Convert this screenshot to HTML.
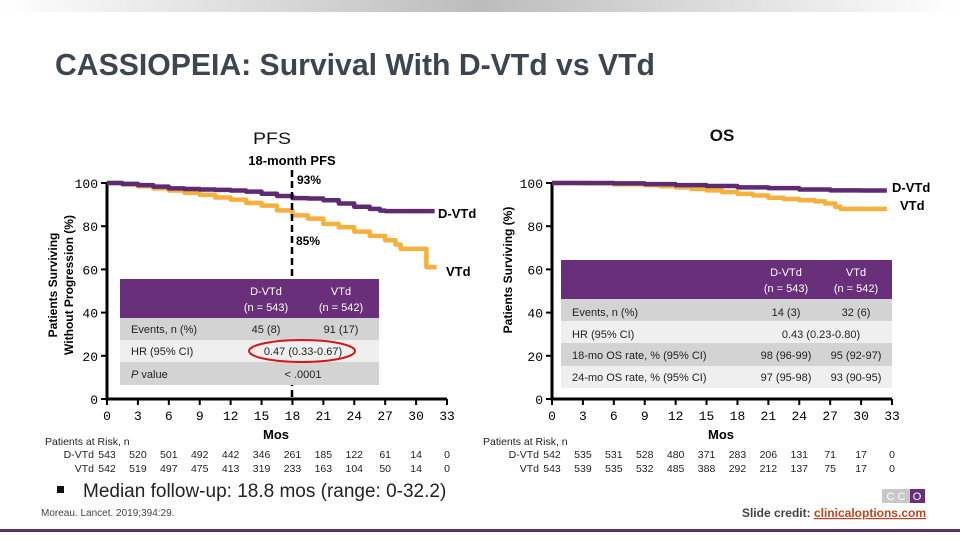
<!DOCTYPE html>
<html><head><meta charset="utf-8"><style>
html,body{margin:0;padding:0;background:#fff;}
svg{display:block;font-family:"Liberation Sans",sans-serif;}
</style></head><body>
<svg id="s" width="960" height="540" viewBox="0 0 960 540" xmlns="http://www.w3.org/2000/svg">
<defs>
<linearGradient id="tg" x1="0" x2="1" y1="0" y2="0">
<stop offset="0" stop-color="#fff"/><stop offset="0.5" stop-color="#bcbcbc"/><stop offset="1" stop-color="#fff"/>
</linearGradient>
</defs>
<rect x="0" y="0" width="960" height="12" fill="url(#tg)"/>
<text x="55" y="75" font-size="31" font-weight="bold" fill="#3d4650" textLength="600" lengthAdjust="spacingAndGlyphs">CASSIOPEIA: Survival With D-VTd vs VTd</text>
<text x="272" y="144" font-size="17" text-anchor="middle" fill="#111" textLength="38" lengthAdjust="spacingAndGlyphs">PFS</text>
<text x="722" y="141" font-size="17" font-weight="bold" text-anchor="middle" fill="#111">OS</text>
<g id="pfs"></g>
<g id="os"></g>

<line x1="292" y1="170" x2="292" y2="399" stroke="#000" stroke-width="2.5" stroke-dasharray="7,4"/>
<text x="292" y="165" font-size="13" font-weight="bold" text-anchor="middle">18-month PFS</text>
<text x="297" y="184" font-size="12" font-weight="bold">93%</text>
<text x="296" y="245" font-size="12" font-weight="bold">85%</text>
<text x="438" y="218" font-size="13" font-weight="bold">D-VTd</text>
<text x="446" y="276" font-size="13" font-weight="bold">VTd</text>
<text transform="translate(57,285) rotate(-90)" font-size="12" font-weight="bold" text-anchor="middle">Patients Surviving</text>
<text transform="translate(73,285) rotate(-90)" font-size="12" font-weight="bold" text-anchor="middle">Without Progression (%)</text>
<text x="276" y="439" font-size="13" font-weight="bold" text-anchor="middle">Mos</text>

<g font-size="11" fill="#222">
<rect x="120" y="279" width="259" height="39" fill="#6a2f7a"/>
<rect x="120" y="318" width="259" height="22" fill="#d3d3d3"/>
<rect x="120" y="340" width="259" height="22" fill="#efefef"/>
<rect x="120" y="362" width="259" height="23" fill="#d3d3d3"/>
<text x="266" y="295" fill="#fff" text-anchor="middle">D-VTd</text>
<text x="266" y="311" fill="#fff" text-anchor="middle">(n = 543)</text>
<text x="341" y="295" fill="#fff" text-anchor="middle">VTd</text>
<text x="341" y="311" fill="#fff" text-anchor="middle">(n = 542)</text>
<text x="131" y="333">Events, n (%)</text>
<text x="266" y="333" text-anchor="middle">45 (8)</text>
<text x="341" y="333" text-anchor="middle">91 (17)</text>
<text x="131" y="355">HR (95% CI)</text>
<text x="303" y="355" text-anchor="middle">0.47 (0.33-0.67)</text>
<text x="131" y="378"><tspan font-style="italic">P</tspan> value</text>
<text x="303" y="378" text-anchor="middle">&lt; .0001</text>
<ellipse cx="302" cy="351" rx="53" ry="11" fill="none" stroke="#d01818" stroke-width="2"/>
</g>

<text x="892" y="192" font-size="13" font-weight="bold">D-VTd</text>
<text x="900" y="210" font-size="13" font-weight="bold">VTd</text>
<text transform="translate(512,270) rotate(-90)" font-size="12" font-weight="bold" text-anchor="middle">Patients Surviving (%)</text>
<text x="721" y="439" font-size="13" font-weight="bold" text-anchor="middle">Mos</text>

<g font-size="11" fill="#222">
<rect x="561" y="260" width="331" height="39" fill="#6a2f7a"/>
<rect x="561" y="299" width="331" height="22" fill="#d3d3d3"/>
<rect x="561" y="321" width="331" height="22" fill="#efefef"/>
<rect x="561" y="343" width="331" height="23" fill="#d3d3d3"/>
<rect x="561" y="366" width="331" height="22" fill="#efefef"/>
<text x="786" y="276" fill="#fff" text-anchor="middle">D-VTd</text>
<text x="786" y="292" fill="#fff" text-anchor="middle">(n = 543)</text>
<text x="856" y="276" fill="#fff" text-anchor="middle">VTd</text>
<text x="856" y="292" fill="#fff" text-anchor="middle">(n = 542)</text>
<text x="572" y="316">Events, n (%)</text>
<text x="786" y="316" text-anchor="middle">14 (3)</text>
<text x="856" y="316" text-anchor="middle">32 (6)</text>
<text x="572" y="338">HR (95% CI)</text>
<text x="821" y="338" text-anchor="middle">0.43 (0.23-0.80)</text>
<text x="572" y="359">18-mo OS rate, % (95% CI)</text>
<text x="786" y="359" text-anchor="middle">98 (96-99)</text>
<text x="856" y="359" text-anchor="middle">95 (92-97)</text>
<text x="572" y="381">24-mo OS rate, % (95% CI)</text>
<text x="786" y="381" text-anchor="middle">97 (95-98)</text>
<text x="856" y="381" text-anchor="middle">93 (90-95)</text>
</g>

<g id="risk" font-size="10.5" fill="#222"></g>

<rect x="57" y="486" width="7" height="7" fill="#111"/>
<text x="83" y="497" font-size="19" fill="#222">Median follow-up: 18.8 mos (range: 0-32.2)</text>
<text x="41" y="516" font-size="10" fill="#444">Moreau. Lancet. 2019;394:29.</text>
<g>
<rect x="882" y="489" width="28" height="14" fill="#c8c8cc"/>
<rect x="910" y="489" width="15" height="14" fill="#6a2f7a"/>
<text x="896" y="500" font-size="11" fill="#fff" text-anchor="middle">C C</text>
<text x="917" y="500" font-size="11" fill="#fff" text-anchor="middle">O</text>
</g>
<text x="926" y="517" font-size="12" font-weight="bold" text-anchor="end" fill="#444">Slide credit: <tspan fill="#c0441c" text-decoration="underline">clinicaloptions.com</tspan></text>
<rect x="0" y="529" width="960" height="3" fill="#5a3068"/>
</svg>
<script>
const ticksX=[0,3,6,9,12,15,18,21,24,27,30,33];
const ticksY=[0,20,40,60,80,100];
const pfsDvtdT=[0,1.5,3,4.5,6,7.5,9,10.5,12,13.5,15,16.5,18,19.5,21,22.5,24,25.5,26.5,27,30,31.8];
const pfsDvtdV=[100,99.6,99,98.3,97.5,97.2,97,96.8,96.5,96,95,94,93,92.8,92,90.5,89,88,87.2,87,87,87];
const pfsVtdT=[0,1.5,3,4.5,6,7.5,9,10.5,12,13.5,15,16.5,18,19.5,21,22.5,24,25.5,27,28,28.5,31,31,32];
const pfsVtdV=[100,99.3,98.5,97.5,96.5,95.5,94.5,93.3,92.3,90.8,89.5,87.3,85,83.5,81,79.5,77.5,75.5,73.5,71.5,69.5,69,61,61];
const osDvtdT=[0,3,6,9,12,15,18,21,24,27,30,32.5];
const osDvtdV=[100,100,99.8,99.5,99,98.6,98,97.6,97,96.6,96.5,96.5];
const osVtdT=[0,3,6,9,10.5,12,13.5,15,16.5,18,19.5,21,22.5,24,25.5,26.5,27.5,28,32.5];
const osVtdV=[100,99.8,99.4,99,98.5,98,97.3,96.6,95.8,95,94.2,93.2,92.6,92,91.5,90.5,89,88,88];
const pfsRiskD=[543,520,501,492,442,346,261,185,122,61,14,0];
const pfsRiskV=[542,519,497,475,413,319,233,163,104,50,14,0];
const osRiskD=[542,535,531,528,480,371,283,206,131,71,17,0];
const osRiskV=[543,539,535,532,485,388,292,212,137,75,17,0];
const NS="http://www.w3.org/2000/svg";
function mk(t,a,p){const e=document.createElementNS(NS,t);for(const k in a)e.setAttribute(k,a[k]);p.appendChild(e);return e;}
function chart(g,x0,name,dT,dV,vT,vV){
 const sx=t=>x0+t*340/33, sy=v=>399-v*2.16;
 const ax=mk('path',{d:`M${x0} 183V399H${sx(33)}`,fill:'none',stroke:'#000','stroke-width':3},g);
 
 
 ticksY.forEach(v=>{
  const l=mk('line',{x1:x0-6,x2:x0,y1:sy(v),y2:sy(v),stroke:'#000','stroke-width':2},g);
  
  
  const t=mk('text',{x:x0-9,y:sy(v)+5,'font-size':13,'text-anchor':'end','font-family':'Liberation Mono, monospace'},g);
  t.textContent=v;
  
  
 });
 ticksX.forEach(v=>{
  const l=mk('line',{x1:sx(v),x2:sx(v),y1:399,y2:405,stroke:'#000','stroke-width':2},g);
  
  
  const t=mk('text',{x:sx(v),y:420,'font-size':13,'text-anchor':'middle','font-family':'Liberation Mono, monospace'},g);
  t.textContent=v;
  
  
 });
 function step(T,V,col,n){
  let d=`M${sx(T[0])} ${sy(V[0])}`;
  for(let i=1;i<T.length;i++){d+=`H${sx(T[i])}V${sy(V[i])}`;}
  const p=mk('path',{d:d,fill:'none',stroke:col,'stroke-width':4.5,'stroke-linejoin':'round'},g);
  
  
 }
 step(vT,vV,'#f7b03c',name+'-vtd-curve');
 step(dT,dV,'#5e2a72',name+'-dvtd-curve');
 return sx;
}
const sp=chart(document.getElementById('pfs'),107,'pfs',pfsDvtdT,pfsDvtdV,pfsVtdT,pfsVtdV);
const so=chart(document.getElementById('os'),552,'os',osDvtdT,osDvtdV,osVtdT,osVtdV);
const r=document.getElementById('risk');
function risk(sx,D,V,lx,name){
 const h=mk('text',{x:lx,y:445,'font-size':10.5},r);h.textContent='Patients at Risk, n';
 
 
 [['D-VTd',D,458],['VTd',V,472]].forEach(([lab,arr,y])=>{
  const l=mk('text',{x:sx(0)-13,y:y,'text-anchor':'end'},r);l.textContent=lab;
  
  
  arr.forEach((n,i)=>{
   const t=mk('text',{x:sx(ticksX[i]),y:y,'text-anchor':'middle'},r);t.textContent=n;
   
   
  });
 });
}
risk(sp,pfsRiskD,pfsRiskV,45,'pfs');
risk(so,osRiskD,osRiskV,483,'os');
</script>
</body></html>
